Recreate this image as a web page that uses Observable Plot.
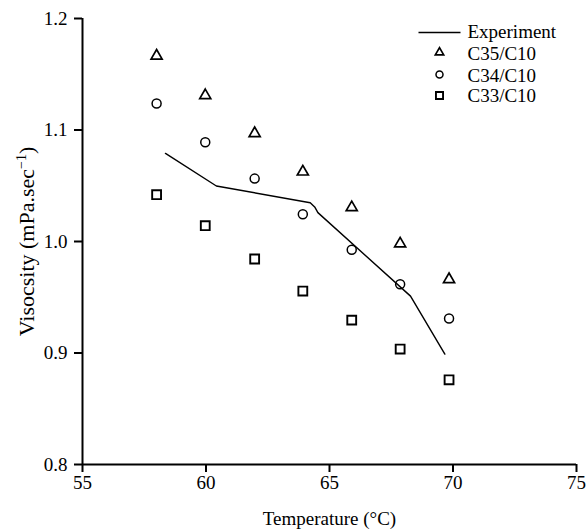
<!DOCTYPE html>
<html>
<head>
<meta charset="utf-8">
<script src="https://cdn.jsdelivr.net/npm/d3@7"></script>
<script src="https://cdn.jsdelivr.net/npm/@observablehq/plot@0.6"></script>
<style>
  html, body { margin: 0; padding: 0; background: white; }
</style>
</head>
<body>
<div id="chart"></div>
<script>
// ---- data ----
const temps = [58, 59.97, 61.97, 63.92, 65.9, 67.86, 69.84];
const c35 = [1.1665, 1.131, 1.097, 1.0625, 1.0305, 0.998, 0.966];
const c34 = [1.1237, 1.089, 1.0564, 1.0244, 0.9926, 0.9616, 0.931];
const c33 = [1.042, 1.0142, 0.9843, 0.9556, 0.9295, 0.9035, 0.876];
const expTemps = [58.36, 60.42, 64.22, 64.4, 64.53, 68.28, 69.67];
const expVisc = [1.079, 1.0498, 1.0348, 1.031, 1.0259, 0.951, 0.899];
const xTicks = [55, 60, 65, 70, 75];
const yTicks = [0.8, 0.9, 1.0, 1.1, 1.2];
const legendLabels = ["Experiment", "C35/C10", "C34/C10", "C33/C10"];
const xLabel = "Temperature (°C)";
const yLabelMain = "Visocsity (mPa.sec";

// ---- tables for the library ----
const rows = (ys) => temps.map((t, i) => ({t, v: ys[i]}));
const expRows = expTemps.map((t, i) => ({t, v: expVisc[i]}));

// ---- layout / style ----
const legendRowDy = [14, 34, 56, 77];
const legendTextDy = [13, 35, 57, 77];
const lineSymbol = { draw(ctx) { ctx.moveTo(-21, 0); ctx.lineTo(21, 0); } };
const font = "'Liberation Serif', 'Times New Roman', serif";

const plot = Plot.plot({
  width: 588,
  height: 529,
  marginLeft: 82,
  marginRight: 12,
  marginTop: 18,
  marginBottom: 65,
  style: { fontFamily: font, fontSize: "19px", color: "black", background: "white" },
  x: { domain: [55, 75] },
  y: { domain: [0.8, 1.2] },
  marks: [
    Plot.ruleX([55], { stroke: "black", strokeWidth: 2 }),
    Plot.ruleY([0.8], { stroke: "black", strokeWidth: 2 }),
    Plot.axisX({ ticks: xTicks, tickSize: 8, tickPadding: 3, strokeWidth: 2, tickFormat: d => String(d), label: null }),
    Plot.axisY({ ticks: yTicks, tickSize: 8, tickPadding: 7, strokeWidth: 2, tickFormat: d3.format(".1f"), label: null }),
    Plot.line(expRows, { x: "t", y: "v", stroke: "black", strokeWidth: 1.4 }),
    Plot.dot(rows(c35), { x: "t", y: "v", symbol: "triangle", r: 4.1, fill: "none", stroke: "black", strokeWidth: 1.7 }),
    Plot.dot(rows(c34), { x: "t", y: "v", symbol: "circle", r: 4.5, fill: "none", stroke: "black", strokeWidth: 1.5 }),
    Plot.dot(rows(c33), { x: "t", y: "v", symbol: "square", r: 5.0, fill: "none", stroke: "black", strokeWidth: 1.9 }),
    // axis titles
    Plot.text([xLabel], { frameAnchor: "bottom", dy: 54, textAnchor: "middle", lineAnchor: "middle", fill: "black" }),
    Plot.text([yLabelMain], { frameAnchor: "left", dx: -56, rotate: -90, textAnchor: "middle", lineAnchor: "middle", fill: "black", fontSize: 22 }),
    // legend
    Plot.dot([legendLabels[0]], { frameAnchor: "top-right", dx: -137, dy: legendRowDy[0], symbol: lineSymbol, fill: "none", stroke: "black", strokeWidth: 1.6 }),
    Plot.dot([legendLabels[1]], { frameAnchor: "top-right", dx: -137, dy: legendRowDy[1], symbol: "triangle", r: 3.1, fill: "none", stroke: "black", strokeWidth: 1.7 }),
    Plot.dot([legendLabels[2]], { frameAnchor: "top-right", dx: -137, dy: legendRowDy[2], symbol: "circle", r: 3.5, fill: "none", stroke: "black", strokeWidth: 1.5 }),
    Plot.dot([legendLabels[3]], { frameAnchor: "top-right", dx: -137, dy: legendRowDy[3], symbol: "square", r: 4.0, fill: "none", stroke: "black", strokeWidth: 1.9 }),
    ...legendLabels.map((lab, i) =>
      Plot.text([lab], { frameAnchor: "top-right", dx: -109, dy: legendTextDy[i], textAnchor: "start", lineAnchor: "middle", fill: "black" }))
  ]
});

// superscript "−1" on the y-axis title
plot.querySelectorAll("text").forEach(t => {
  if (t.textContent === yLabelMain) {
    t.textContent = "";
    const ns = "http://www.w3.org/2000/svg";
    const a = document.createElementNS(ns, "tspan"); a.textContent = yLabelMain;
    const b = document.createElementNS(ns, "tspan"); b.textContent = "\u22121";
    b.setAttribute("font-size", "14px"); b.setAttribute("dy", "-8");
    const c = document.createElementNS(ns, "tspan"); c.textContent = ")";
    c.setAttribute("dy", "8");
    t.append(a, b, c);
  }
});

document.getElementById("chart").appendChild(plot);
</script>
</body>
</html>
